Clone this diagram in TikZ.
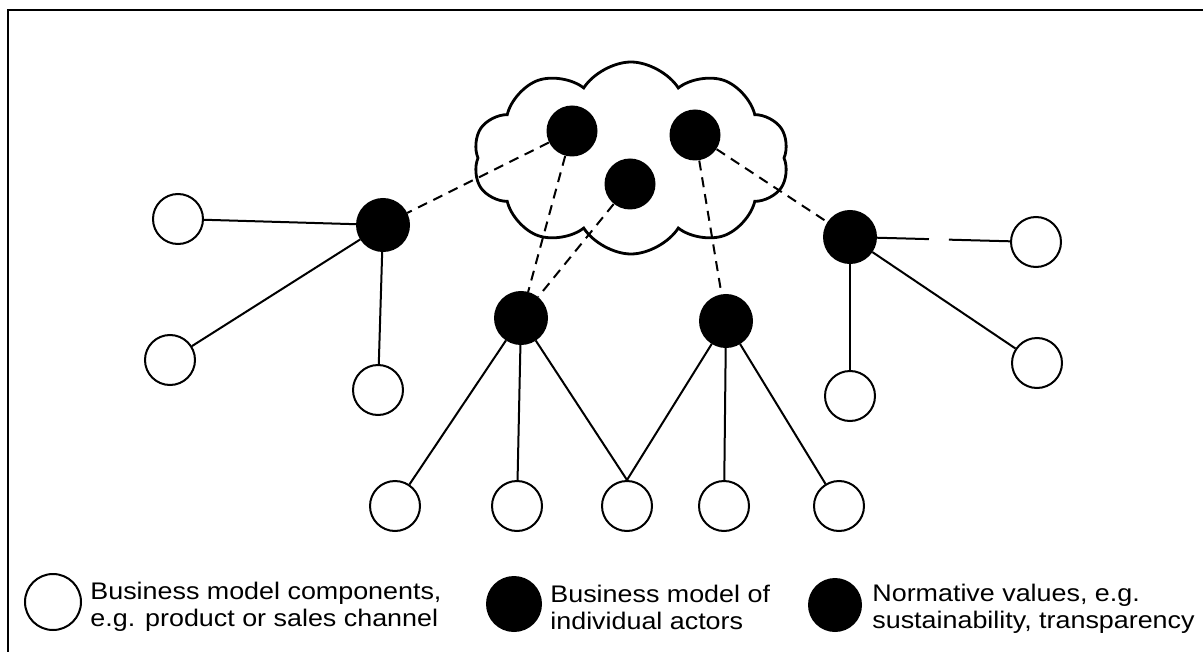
\documentclass[tikz,border=0pt]{standalone}
\usepackage{fontspec}
\setmainfont{Liberation Sans}[FakeStretch=1.12]
\usetikzlibrary{shapes.symbols}
\tikzset{
  part/.style={circle,draw,line width=1pt,fill=white,minimum size=25pt,inner sep=0pt},
  actor/.style={circle,draw,line width=1pt,fill=black,minimum size=26pt,inner sep=0pt},
  value/.style={circle,fill=black,minimum size=25.5pt,inner sep=0pt},
  link/.style={line width=1pt},
  dlink/.style={line width=1pt,dash pattern=on 5pt off 3.5pt},
  legtext/.style={anchor=west,align=left,inner sep=0pt,font=\fontsize{12}{13.5}\selectfont}
}
\begin{document}
\begin{tikzpicture}[x=0.5pt,y=-0.5pt]
            \useasboundingbox (0,0) rectangle (1203,652);
            \draw[line width=1.2pt] (8,652)--(8,10)--(1203,10);
            % cloud of normative values
            \node[cloud,draw,line width=1.4pt,fill=white,cloud puffs=10,cloud puff arc=115,
                  cloud ignores aspect,minimum width=158pt,minimum height=96pt,inner sep=0pt]
                  (cloud) at (631,158) {};
            \node[value] (nA) at (572,131) {};
            \node[value] (nB) at (695,135) {};
            \node[value] (nC) at (630,184) {};
            % actors
            \node[actor] (h1) at (383,225) {};
            \node[actor] (h2) at (521,318) {};
            \node[actor] (h3) at (726,321) {};
            \node[actor] (h4) at (850,237) {};
            % components
            \node[part] (w1) at (178,219) {};
            \node[part] (w2) at (170,360) {};
            \node[part] (w3) at (378,390) {};
            \node[part] (w4) at (1036,242) {};
            \node[part] (w5) at (1037,363) {};
            \node[part] (w6) at (850,396) {};
            \node[part] (b1) at (395,506) {};
            \node[part] (b2) at (517,506) {};
            \node[part] (b3) at (627,506) {};
            \node[part] (b4) at (724,506) {};
            \node[part] (b5) at (839,506) {};
            % links
            \draw[dlink] (nA)--(h1);
            \draw[dlink] (nA)--(h2);
            \draw[dlink] (nC)--(h2);
            \draw[dlink] (nB)--(h3);
            \draw[dlink] (nB)--(h4);
            \draw[link] (h1)--(w1);
            \draw[link] (h1)--(w2);
            \draw[link] (h1)--(w3);
            \draw[link,dash pattern=on 26pt off 10pt on 60pt] (h4)--(w4);
            \draw[link] (h4)--(w5);
            \draw[link] (h4)--(w6);
            \draw[link] (h2)--(b1);
            \draw[link] (h2)--(b2);
            \draw[link] (h2)--(b3.north);
            \draw[link] (h3)--(b3.north);
            \draw[link] (h3)--(b4);
            \draw[link] (h3)--(b5);
            % legend
            \node[part,minimum size=28pt] (lpart) at (53,602) {};
            \node[legtext] (tpart) at (90,607) {Business model components,\\e.g. product or sales channel};
            \node[actor,minimum size=27pt] (lactor) at (514,604) {};
            \node[legtext] (tactor) at (550,607) {Business model of\\individual actors};
            \node[value,minimum size=27pt] (lvalue) at (835,605) {};
            \node[legtext] (tvalue) at (872,609) {Normative values, e.g.\\sustainability, transparency};
        \end{tikzpicture}
\end{document}
